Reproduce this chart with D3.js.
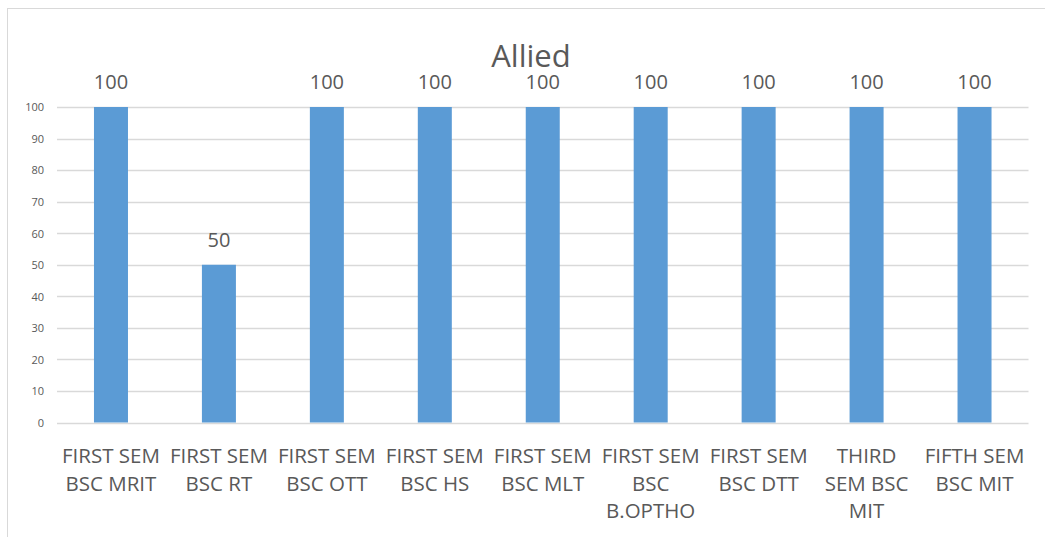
<!DOCTYPE html>
<html>
<head>
<meta charset="utf-8">
<script src="https://cdn.jsdelivr.net/npm/d3@7/dist/d3.min.js"></script>
<style>
  html, body { margin: 0; padding: 0; background: #fff; }
  svg { display: block; font-family: "Open Sans", sans-serif; }
</style>
</head>
<body>
<svg id="chart" width="1045" height="537"></svg>
<script>
const title = "Allied";
const categories = [
  "FIRST SEM BSC MRIT",
  "FIRST SEM BSC RT",
  "FIRST SEM BSC OTT",
  "FIRST SEM BSC HS",
  "FIRST SEM BSC MLT",
  "FIRST SEM BSC B.OPTHO",
  "FIRST SEM BSC DTT",
  "THIRD SEM BSC MIT",
  "FIFTH SEM BSC MIT"
];
const labelLines = [
  ["FIRST SEM", "BSC MRIT"],
  ["FIRST SEM", "BSC RT"],
  ["FIRST SEM", "BSC OTT"],
  ["FIRST SEM", "BSC HS"],
  ["FIRST SEM", "BSC MLT"],
  ["FIRST SEM", "BSC", "B.OPTHO"],
  ["FIRST SEM", "BSC DTT"],
  ["THIRD", "SEM BSC", "MIT"],
  ["FIFTH SEM", "BSC MIT"]
];
const values = [100, 50, 100, 100, 100, 100, 100, 100, 100];
const yTicks = [0, 10, 20, 30, 40, 50, 60, 70, 80, 90, 100];

const svg = d3.select("#chart");
const textColor = "#595959";
const gridColor = "#d9d9d9";
const barColor = "#5b9bd5";

// chart border
svg.append("rect")
  .attr("x", 7.5).attr("y", 8.5)
  .attr("width", 1045).attr("height", 540)
  .attr("fill", "none").attr("stroke", gridColor).attr("stroke-width", 1);

const plot = { left: 57, right: 1028.5, top: 107, bottom: 422.5 };

const x = d3.scaleBand()
  .domain(categories)
  .range([plot.left, plot.right])
  .paddingInner(0.685)
  .paddingOuter(0.3425);

const y = d3.scaleLinear()
  .domain([0, 100])
  .range([plot.bottom, plot.top]);

// gridlines
svg.append("g")
  .selectAll("line")
  .data(yTicks)
  .join("line")
  .attr("x1", plot.left).attr("x2", plot.right)
  .attr("y1", d => Math.round(y(d)) + 0.5)
  .attr("y2", d => Math.round(y(d)) + 0.5)
  .attr("stroke", gridColor).attr("stroke-width", 1.3);

// y axis labels
const yAxis = d3.axisLeft(y).tickValues(yTicks).tickSize(0).tickPadding(0);
const yg = svg.append("g")
  .attr("transform", `translate(${44},0)`)
  .call(yAxis);
yg.select(".domain").remove();
yg.selectAll("text")
  .attr("fill", textColor)
  .attr("font-size", "11px")
  .attr("font-family", "'Open Sans', sans-serif")
  .attr("dy", "0.35em");

// bars
svg.append("g")
  .selectAll("rect")
  .data(values)
  .join("rect")
  .attr("x", (d, i) => x(categories[i]))
  .attr("width", x.bandwidth())
  .attr("y", d => y(d))
  .attr("height", d => y(0) - y(d))
  .attr("fill", barColor);

// data labels
svg.append("g")
  .selectAll("text")
  .data(values)
  .join("text")
  .attr("x", (d, i) => x(categories[i]) + x.bandwidth() / 2)
  .attr("y", d => y(d) - 18)
  .attr("text-anchor", "middle")
  .attr("font-size", "20px")
  .attr("fill", textColor)
  .text(d => d);

// x labels
const xg = svg.append("g");
categories.forEach((c, i) => {
  const t = xg.append("text")
    .attr("x", x(c) + x.bandwidth() / 2)
    .attr("y", 463)
    .attr("text-anchor", "middle")
    .attr("font-size", "20.5px")
    .attr("fill", textColor);
  labelLines[i].forEach((ln, j) => {
    t.append("tspan")
      .attr("x", x(c) + x.bandwidth() / 2)
      .attr("y", 463 + j * 27.5)
      .text(ln);
  });
});

// title
svg.append("text")
  .attr("x", 531)
  .attr("y", 67)
  .attr("text-anchor", "middle")
  .attr("font-size", "31px")
  .attr("fill", textColor)
  .text(title);
</script>
</body>
</html>
